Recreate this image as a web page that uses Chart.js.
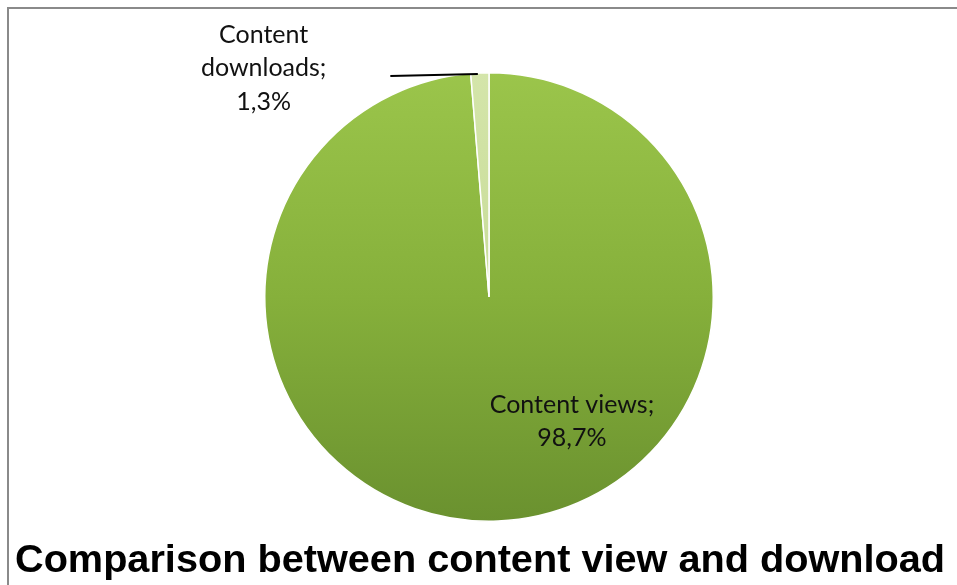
<!DOCTYPE html>
<html lang="en">
<head>
    <meta charset="UTF-8">
    <title>Comparison between content view and download</title>
    <style>
        html, body {
            margin: 0;
            padding: 0;
            background-color: #ffffff;
        }
        .chart-container {
            position: relative;
            width: 957px;
            height: 585px;
        }
    </style>
</head>
<body>
    <div class="chart-container">
        <canvas id="pieChart"></canvas>
    </div>

    <script src="https://cdn.jsdelivr.net/npm/chart.js"></script>
    <script>
        // Data
        const categories = ['Content views', 'Content downloads'];
        const shares = [98.7, 1.3];
        const shareLabels = ['98,7%', '1,3%'];
        const chartTitle = 'Comparison between content view and download';

        // Top and bottom colours of each slice's vertical gradient
        const sliceTop = ['#9bc54b', '#d4e5aa'];
        const sliceBottom = ['#6a912f', '#b5ce80'];

        function sliceColor(context) {
            const i = context.dataIndex;
            const area = context.chart.chartArea;
            if (!area) return sliceTop[i];
            const g = context.chart.ctx.createLinearGradient(0, area.top, 0, area.bottom);
            g.addColorStop(0, sliceTop[i]);
            g.addColorStop(0.5, i === 0 ? '#86b03b' : '#c8dc98');
            g.addColorStop(1, sliceBottom[i]);
            return g;
        }

        // Frame, title and data labels drawn on the canvas
        const decorations = {
            id: 'decorations',
            beforeDraw(chart) {
                const ctx = chart.ctx;
                ctx.save();
                ctx.strokeStyle = '#8a8a8a';
                ctx.lineWidth = 2;
                ctx.beginPath();
                ctx.moveTo(8, chart.height + 2);
                ctx.lineTo(8, 8);
                ctx.lineTo(chart.width + 2, 8);
                ctx.stroke();
                ctx.restore();
            },
            afterDraw(chart) {
                const ctx = chart.ctx;
                const arcs = chart.getDatasetMeta(0).data;
                const cx = arcs[0].x, cy = arcs[0].y, r = arcs[0].outerRadius;

                ctx.save();
                ctx.fillStyle = '#111111';
                ctx.textAlign = 'center';
                ctx.textBaseline = 'middle';
                ctx.font = '25px Lato, "Open Sans", sans-serif';

                // Content views label, inside the pie
                const vx = cx + r * 0.37, vy = cy + r * 0.48;
                ctx.fillText(categories[0] + ';', vx, vy);
                ctx.fillText(shareLabels[0], vx, vy + 33);

                // Content downloads label, outside with a leader line
                const d = arcs[1];
                const mid = (d.startAngle + d.endAngle) / 2;
                const px = cx + Math.cos(mid) * r, py = cy + Math.sin(mid) * r;
                ctx.strokeStyle = '#000000';
                ctx.lineWidth = 2;
                ctx.beginPath();
                ctx.moveTo(px - 2, py + 1);
                ctx.lineTo(cx - r * 0.44, cy - r * 0.985);
                ctx.stroke();

                const dx = cx - r * 1.005, dy = cy - r * 1.17;
                ctx.fillText('Content', dx, dy);
                ctx.fillText('downloads;', dx, dy + 33.5);
                ctx.fillText(shareLabels[1], dx, dy + 67);

                // Title, bold and slightly condensed to fill the width
                ctx.font = 'bold 38px "Liberation Sans", Arial, sans-serif';
                ctx.textAlign = 'left';
                ctx.textBaseline = 'alphabetic';
                const w = ctx.measureText(chartTitle).width;
                const sx = 930 / w;
                ctx.translate(15, 572);
                ctx.scale(sx, 1);
                ctx.fillStyle = '#000000';
                ctx.fillText(chartTitle, 0, 0);
                ctx.restore();
            }
        };

        const ctxPie = document.getElementById('pieChart').getContext('2d');
        const pieChart = new Chart(ctxPie, {
            type: 'pie',
            data: {
                labels: categories,
                datasets: [{
                    data: shares,
                    backgroundColor: sliceColor,
                    borderColor: '#ffffff',
                    borderWidth: 1.5
                }]
            },
            options: {
                responsive: true,
                maintainAspectRatio: false,
                animation: false,
                layout: { padding: { top: 72, bottom: 63, left: 264, right: 243 } },
                plugins: {
                    legend: { display: false },
                    tooltip: { enabled: false },
                    title: { display: false }
                }
            },
            plugins: [decorations]
        });
    </script>
</body>
</html>
